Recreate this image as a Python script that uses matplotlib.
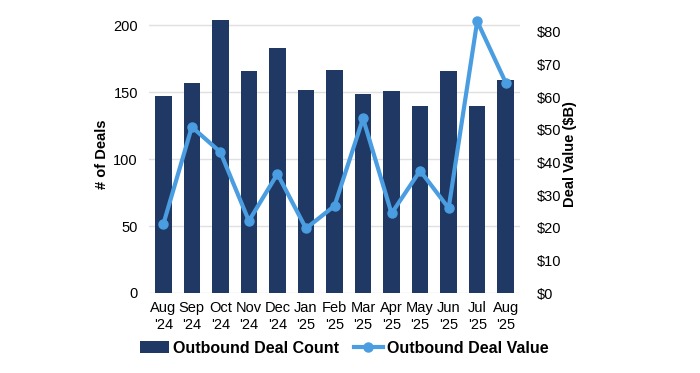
import numpy as np
import matplotlib
matplotlib.use("Agg")
import matplotlib.pyplot as plt

plt.rcParams['font.family'] = ['Liberation Sans', 'DejaVu Sans']

months = ["Aug\n'24", "Sep\n'24", "Oct\n'24", "Nov\n'24", "Dec\n'24", "Jan\n'25", "Feb\n'25",
          "Mar\n'25", "Apr\n'25", "May\n'25", "Jun\n'25", "Jul\n'25", "Aug\n'25"]
deal_count = [147, 157, 204, 166, 183, 152, 167, 149, 151, 140, 166, 140, 159]
deal_value = [21.0, 50.9, 43.2, 22.1, 36.5, 19.8, 26.7, 53.5, 24.4, 37.5, 26.0, 83.3, 64.5]

bar_color = '#1f3864'
line_color = '#4a9de0'

fig = plt.figure(figsize=(7, 3.73), dpi=100)
ax = fig.add_axes([149/700, 80/373, 371/700, 278/373])
x = np.arange(len(months))

ax.bar(x, deal_count, width=0.58, color=bar_color, zorder=2, label='Outbound Deal Count')
ax.set_ylim(0, 278/1.3375)
ax.set_xlim(-0.5, 12.5)
ax.set_yticks([0, 50, 100, 150, 200])
ax.grid(axis='y', color='#e0e0e0', linewidth=1, zorder=0)
ax.set_axisbelow(True)
ax.set_xticks(x)
ax.set_xticklabels(months, fontsize=10.5, linespacing=1.25)
ax.tick_params(axis='both', length=0, labelsize=10.5)
ax.tick_params(axis='y', pad=8)
ax.tick_params(axis='x', pad=6)
for s in ax.spines.values():
    s.set_visible(False)
ax.set_ylabel('# of Deals', fontsize=10.5, fontweight='bold', labelpad=3)

ax2 = ax.twinx()
ax2.plot(x, deal_value, color=line_color, linewidth=3, marker='o', markersize=6.5,
         label='Outbound Deal Value', clip_on=False, zorder=3)
ax2.set_ylim(0, 278/3.2625)
ax2.set_yticks(range(0, 90, 10))
ax2.set_yticklabels(['$%d' % v for v in range(0, 90, 10)])
ax2.tick_params(axis='y', length=0, labelsize=10.5, pad=12)
for s in ax2.spines.values():
    s.set_visible(False)
ax2.set_ylabel('Deal Value ($B)', fontsize=10.5, fontweight='bold', labelpad=1)

h1, l1 = ax.get_legend_handles_labels()
h2, l2 = ax2.get_legend_handles_labels()
fig.legend(h1 + h2, l1 + l2, loc='center', bbox_to_anchor=(0.492, 0.067), ncol=2,
           frameon=False, prop={'weight': 'bold', 'size': 11.5}, handlelength=1.8,
           handletextpad=0.3, columnspacing=0.9)

fig.savefig('out.png', dpi=100)
